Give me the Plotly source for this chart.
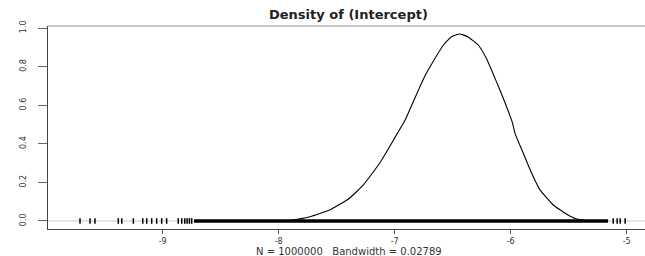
import plotly.graph_objects as go

# Density curve
dens_x = [-8.0, -7.9, -7.73, -7.56, -7.39, -7.27, -7.13, -7.01, -6.91, -6.84, -6.75,
          -6.67, -6.58, -6.51, -6.44, -6.37, -6.28, -6.21, -6.135, -6.064, -5.985,
          -5.963, -5.891, -5.819, -5.747, -5.633, -5.517, -5.431, -5.35, -5.3]
dens_y = [0.0, 0.004, 0.022, 0.057, 0.118, 0.187, 0.299, 0.42, 0.523, 0.618, 0.739,
          0.825, 0.912, 0.955, 0.969, 0.955, 0.912, 0.843, 0.739, 0.636, 0.51,
          0.454, 0.351, 0.247, 0.161, 0.083, 0.035, 0.010, 0.002, 0.0]

# Rug: sparse individual draws and the dense (solid) band
rug_sparse = [-9.713, -9.627, -9.584, -9.383, -9.353, -9.253, -9.172, -9.138, -9.095,
              -9.052, -9.009, -8.966, -8.866, -8.836, -8.81, -8.79, -8.77, -8.75,
              -5.116, -5.082, -5.056, -5.013]
rug_band = [-8.73, -5.16]

x_ticks = [-9, -8, -7, -6, -5]
x_labels = ["-9", "-8", "-7", "-6", "-5"]
y_ticks = [0.0, 0.2, 0.4, 0.6, 0.8, 1.0]
y_labels = ["0.0", "0.2", "0.4", "0.6", "0.8", "1.0"]

title_text = "Density of (Intercept)"
sub_text = "N = 1000000   Bandwidth = 0.02789"

fig = go.Figure()

fig.add_trace(go.Scatter(
    x=rug_band, y=[0, 0], mode="lines",
    line=dict(color="black", width=3.5), hoverinfo="skip", showlegend=False))
fig.add_trace(go.Scatter(
    x=rug_sparse, y=[0] * len(rug_sparse), mode="markers",
    marker=dict(symbol="line-ns", size=4, line=dict(color="black", width=1.5)),
    hoverinfo="skip", showlegend=False))
fig.add_trace(go.Scatter(
    x=dens_x, y=dens_y, mode="lines",
    line=dict(color="black", width=1.1, shape="spline", smoothing=0.4),
    showlegend=False))

fig.add_shape(type="line", xref="paper", yref="y", x0=0, x1=1, y0=0, y1=0,
              line=dict(color="#cccccc", width=1), layer="below")
fig.add_shape(type="line", xref="paper", yref="paper", x0=0, x1=1, y0=1, y1=1,
              line=dict(color="#b5b5b5", width=1.5))

fig.add_annotation(text="<b>" + title_text + "</b>", xref="paper", yref="paper",
                   x=0.504, y=1.059, xanchor="center", yanchor="middle",
                   showarrow=False,
                   font=dict(family="DejaVu Sans", size=13, color="#222222"))
fig.add_annotation(text=sub_text, xref="paper", yref="paper",
                   x=0.504, y=-0.111, xanchor="center", yanchor="middle",
                   showarrow=False,
                   font=dict(family="DejaVu Sans", size=10, color="#333333"))

fig.update_layout(
    width=645, height=256,
    margin=dict(l=48, r=0, t=26, b=27, autoexpand=False),
    paper_bgcolor="white", plot_bgcolor="white",
    font=dict(family="DejaVu Sans", color="#333333"),
    xaxis=dict(range=[-9.989, -4.842], tickvals=x_ticks, ticktext=x_labels,
               showgrid=False, zeroline=False, showline=True, linecolor="#444444",
               linewidth=1, ticks="outside", ticklen=4, tickcolor="#555555",
               automargin=False, ticklabelstandoff=0,
               tickfont=dict(size=8, color="#333333")),
    yaxis=dict(range=[-0.0415, 1.0104], tickvals=y_ticks, ticktext=y_labels,
               showgrid=False, zeroline=False, showline=True, linecolor="#444444",
               linewidth=1.5, ticks="outside", ticklen=9, tickcolor="#666666",
               tickangle=-90, ticklabelstandoff=8, automargin=False,
               tickfont=dict(size=8, color="#333333")),
)

fig.write_html("out.html",
               config={"displayModeBar": False, "staticPlot": True},
               post_script="document.body.style.margin='0';document.body.style.overflow='hidden';")
